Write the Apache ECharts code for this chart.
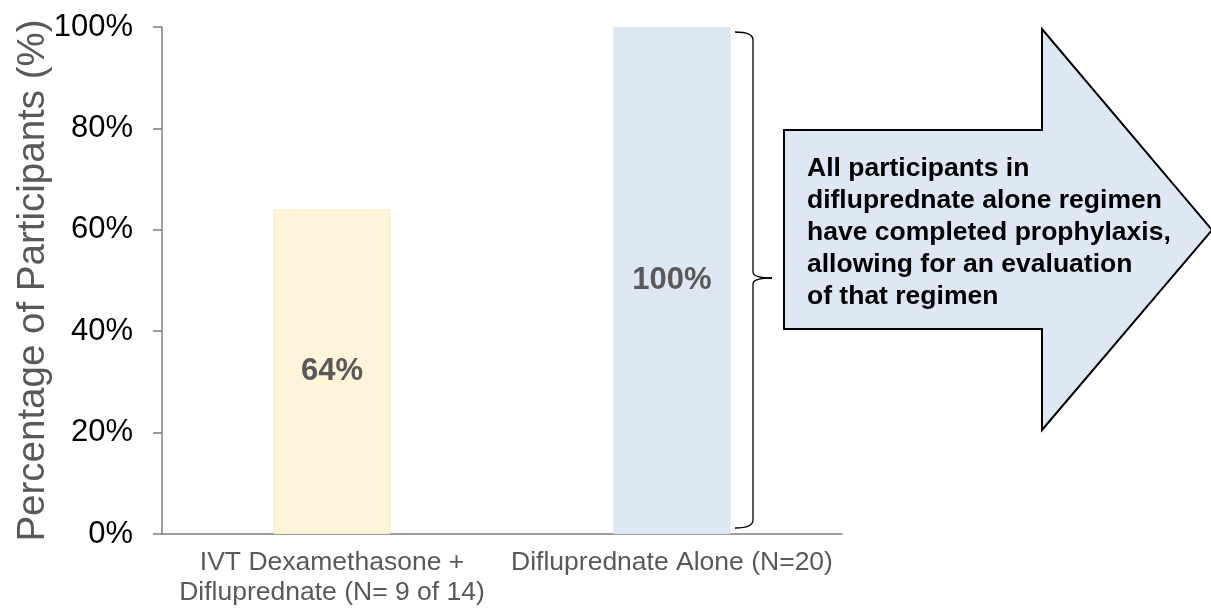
<!DOCTYPE html>
<html>
<head>
<meta charset="utf-8">
<script src="https://cdn.jsdelivr.net/npm/echarts@6/dist/echarts.min.js"></script>
<style>
html,body{margin:0;padding:0;background:#fff;}
#c{width:1211px;height:608px;}
</style>
</head>
<body>
<div id="c"></div>
<script>
var categories = ['IVT Dexamethasone +\nDifluprednate (N= 9 of 14)', 'Difluprednate Alone (N=20)'];
var values = [64, 100];
var barColors = ['#FFF3DA', '#DEE7F4'];
var yTicks = { min: 0, max: 100, interval: 20 };
var yAxisName = 'Percentage of Participants (%)';
var calloutText = 'All participants in\ndifluprednate alone regimen\nhave completed prophylaxis,\nallowing for an evaluation\nof that regimen';

var FONT = '"Liberation Sans", Arial, sans-serif';
var chart = echarts.init(document.getElementById('c'), null, { renderer: 'canvas' });

var option = {
  animation: false,
  backgroundColor: '#ffffff',
  grid: { left: 162, right: 369, top: 27, bottom: 74, containLabel: false, outerBoundsMode: 'none' },
  xAxis: {
    type: 'category',
    data: categories,
    axisLine: { show: true, lineStyle: { color: '#7F7F7F', width: 1.5 } },
    axisTick: { show: false },
    axisLabel: {
      interval: 0, margin: 14, color: '#595959', fontSize: 26.5, lineHeight: 30,
      fontFamily: FONT
    }
  },
  yAxis: {
    type: 'value',
    min: yTicks.min, max: yTicks.max, interval: yTicks.interval,
    name: yAxisName,
    nameLocation: 'middle',
    nameGap: 109,
    nameMoveOverlap: false,
    nameTextStyle: { color: '#595959', fontSize: 38.5, fontFamily: FONT },
    axisLine: { show: true, lineStyle: { color: '#7F7F7F', width: 1.5 } },
    axisTick: { show: true, length: 9, lineStyle: { color: '#7F7F7F', width: 1.5 } },
    splitLine: { show: false },
    axisLabel: {
      formatter: '{value}%', color: '#000000', fontSize: 31, margin: 29,
      fontFamily: FONT
    }
  },
  series: [{
    type: 'bar',
    barWidth: '34.4%',
    data: values.map(function (v, i) {
      return {
        value: v,
        itemStyle: {
          color: barColors[i],
          borderColor: i === 0 ? '#FCEBC2' : '#D9E3F2',
          borderWidth: 1
        }
      };
    }),
    label: {
      show: true, position: 'inside',
      formatter: '{c}%',
      color: '#595959', fontSize: 31, fontWeight: 'bold', fontFamily: FONT
    }
  }]
};
chart.setOption(option);

// annotations (brace and callout arrow)
var topPt = chart.convertToPixel({ xAxisIndex: 0, yAxisIndex: 0 }, [1, values[1]]);
var botPt = chart.convertToPixel({ xAxisIndex: 0, yAxisIndex: 0 }, [1, 0]);
var yt = topPt[1] + 5, yb = botPt[1] - 6, ym = (yt + yb) / 2 - 2;
var x0 = 735, x1 = 753, x2 = 772;
var braceStyle = { fill: null, stroke: '#000000', lineWidth: 1.3 };
function curve(ax, ay, cx, cy, bx, by) {
  return { type: 'bezierCurve', z: 10, shape: { x1: ax, y1: ay, cpx1: cx, cpy1: cy, x2: bx, y2: by }, style: braceStyle };
}
function seg(ax, ay, bx, by) {
  return { type: 'line', z: 10, shape: { x1: ax, y1: ay, x2: bx, y2: by }, style: braceStyle };
}

chart.setOption({
  graphic: [
    curve(x0, yt, x1, yt, x1, yt + 8),
    seg(x1, yt + 8, x1, ym - 6),
    curve(x1, ym - 6, x1, ym, x2, ym),
    curve(x2, ym, x1, ym, x1, ym + 6),
    seg(x1, ym + 6, x1, yb - 8),
    curve(x1, yb - 8, x1, yb, x0, yb),
    {
      type: 'polygon', z: 10,
      shape: { points: [[784, 130], [1042, 130], [1042, 29], [1212, 230], [1042, 430], [1042, 329], [784, 329]] },
      style: { fill: '#DEE7F4', stroke: '#000000', lineWidth: 2 }
    },
    {
      type: 'text', z: 11,
      x: 807, y: 153,
      style: {
        text: calloutText,
        fill: '#000000',
        font: 'bold 26.5px ' + FONT,
        lineHeight: 32,
        verticalAlign: 'top',
        align: 'left'
      }
    }
  ]
});
</script>
</body>
</html>
